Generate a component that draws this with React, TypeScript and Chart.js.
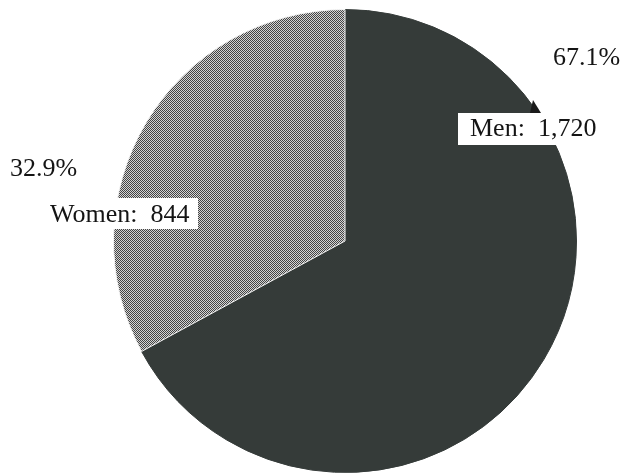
import React, { useEffect, useRef } from "react";
import { Chart, registerables } from "chart.js";

Chart.register(...registerables);

const categories = ["Men", "Women"];
const counts = [1720, 844];
const percentLabels = ["67.1%", "32.9%"];
const valueLabels = ["Men:  1,720", "Women:  844"];

function makeChecker(): CanvasPattern | string {
  const c = document.createElement("canvas");
  c.width = 2;
  c.height = 2;
  const g = c.getContext("2d");
  if (!g) return "#a0a0a0";
  g.fillStyle = "#d4d4d4";
  g.fillRect(0, 0, 2, 2);
  g.fillStyle = "#444444";
  g.fillRect(0, 0, 1, 1);
  g.fillRect(1, 1, 1, 1);
  const p = g.createPattern(c, "repeat");
  return p || "#a0a0a0";
}

const labelPlugin = {
  id: "pieLabels",
  afterDraw(chart: any) {
    const ctx = chart.ctx;
    ctx.save();
    ctx.font = '26px "Liberation Serif", "Times New Roman", serif';
    ctx.textBaseline = "alphabetic";
    ctx.fillStyle = "#141414";
    ctx.textAlign = "left";
    ctx.fillText(percentLabels[0], 553, 65);
    ctx.fillText(percentLabels[1], 10, 176);

    ctx.fillStyle = "#1a1a1a";
    ctx.beginPath();
    ctx.moveTo(533, 100);
    ctx.lineTo(541, 113);
    ctx.lineTo(530, 113);
    ctx.closePath();
    ctx.fill();

    const boxes = [
      { x: 458, y: 113, w: 145, h: 32, tx: 470, ty: 136 },
      { x: 43, y: 198, w: 155, h: 31, tx: 50, ty: 222 },
    ];
    boxes.forEach((b, i) => {
      ctx.fillStyle = "#ffffff";
      ctx.fillRect(b.x, b.y, b.w, b.h);
      ctx.fillStyle = "#141414";
      ctx.fillText(valueLabels[i], b.tx, b.ty);
    });
    ctx.restore();
  },
};

export default function App() {
  const ref = useRef<HTMLCanvasElement | null>(null);
  useEffect(() => {
    if (!ref.current) return;
    const chart = new Chart(ref.current, {
      type: "pie",
      data: {
        labels: categories,
        datasets: [
          {
            data: counts,
            backgroundColor: ["#353b39", makeChecker()],
            borderColor: ["#353b39", "#f4f4f4"],
            borderWidth: 1,
          },
        ],
      },
      options: {
        responsive: false,
        animation: false,
        layout: { padding: { left: 113, right: 45, top: 9, bottom: 1 } },
        plugins: {
          legend: { display: false },
          tooltip: { enabled: false },
          title: { display: false },
        },
      },
      plugins: [labelPlugin],
    });
    return () => chart.destroy();
  }, []);
  return (
    <div style={{ position: "absolute", left: 0, top: 0, width: 622, height: 474, background: "#ffffff" }}>
      <canvas ref={ref} width={622} height={474} style={{ display: "block" }} />
    </div>
  );
}
